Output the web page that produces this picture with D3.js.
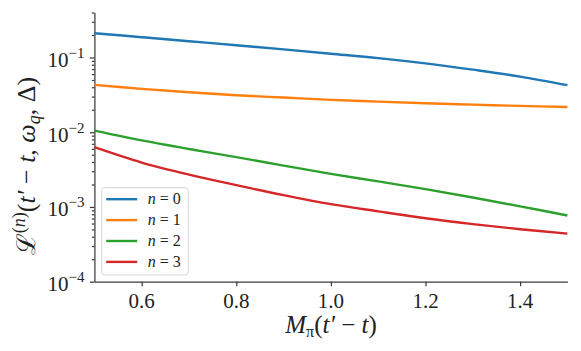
<!DOCTYPE html>
<html>
<head>
<meta charset="utf-8">
<script src="https://cdn.jsdelivr.net/npm/d3@7"></script>
<style>
  body { margin: 0; background: #fff; }
  svg { display: block; }
  svg text { font-family: "Liberation Serif", "Times New Roman", serif; fill: #222; }
  .axis path, .axis line { stroke: #3a3a3a; stroke-width: 1.25; }
</style>
</head>
<body>
<div id="chart"></div>
<script>
// values
var xValues = [0.5, 0.6, 0.7, 0.8, 0.9, 1.0, 1.1, 1.2, 1.3, 1.4, 1.5];
var n0 = [0.2115, 0.1869, 0.1653, 0.1461, 0.1284, 0.1124, 0.0982, 0.0834, 0.0687, 0.0555, 0.0426];
var n1 = [0.0430, 0.0380, 0.0343, 0.0313, 0.0291, 0.0271, 0.0257, 0.0244, 0.0234, 0.0225, 0.0218];
var n2 = [0.01050, 0.00777, 0.00597, 0.00464, 0.00358, 0.00277, 0.00220, 0.00173, 0.00134, 0.00102, 0.000770];
var n3 = [0.00630, 0.00393, 0.00271, 0.00196, 0.00144, 0.00109, 0.000873, 0.000706, 0.000590, 0.000504, 0.000440];
var seriesNames = ["n = 0", "n = 1", "n = 2", "n = 3"];
var colors = ["#1f77b4", "#ff7f0e", "#2ca02c", "#d62728"];
var xTicks = [0.6, 0.8, 1.0, 1.2, 1.4];
var yTickExp = [-4, -3, -2, -1];

var width = 581, height = 351;
var margin = {left: 94.4, right: 13.6, top: 12.5, bottom: 69.3};

var svg = d3.select("#chart").append("svg")
    .attr("width", width)
    .attr("height", height);

var x = d3.scaleLinear()
    .domain([0.5, 1.5])
    .range([margin.left, width - margin.right]);

var y = d3.scaleLog()
    .domain([1e-4, 0.4])
    .range([height - margin.bottom, margin.top]);

// minor log ticks
var minor = [];
yTickExp.forEach(function(e) {
  for (var k = 2; k <= 9; k++) {
    var v = k * Math.pow(10, e);
    if (v <= 0.4) minor.push(v);
  }
});

svg.append("g")
    .attr("class", "axis")
    .attr("transform", "translate(" + margin.left + ",0)")
    .call(d3.axisLeft(y).tickValues(minor).tickSize(2.5).tickFormat(""))
    .select(".domain").remove();

svg.append("g")
    .attr("class", "axis")
    .attr("transform", "translate(" + margin.left + ",0)")
    .call(d3.axisLeft(y).tickValues(yTickExp.map(function(e) { return Math.pow(10, e); }))
      .tickSize(4.5).tickSizeOuter(0).tickFormat(""));

svg.append("g")
    .attr("class", "axis")
    .attr("transform", "translate(0," + (height - margin.bottom) + ")")
    .call(d3.axisBottom(x).tickValues(xTicks).tickSize(4.5).tickSizeOuter(0).tickFormat(""));

// tick labels
svg.append("g").selectAll("text")
    .data(xTicks)
    .enter().append("text")
    .attr("x", function(d) { return x(d); })
    .attr("y", height - margin.bottom + 26.5)
    .attr("text-anchor", "middle")
    .style("font-size", "21px")
    .text(function(d) { return d3.format(".1f")(d); });

var yl = svg.append("g").selectAll("text")
    .data(yTickExp)
    .enter().append("text")
    .attr("x", margin.left - 10)
    .attr("y", function(d) { return y(Math.pow(10, d)) + 9.5; })
    .attr("text-anchor", "end")
    .style("font-size", "21px");
yl.append("tspan").text("10");
yl.append("tspan")
    .attr("dy", -9)
    .style("font-size", "15px")
    .text(function(d) { return "\u2212" + Math.abs(d); });

// lines
var allSeries = [n0, n1, n2, n3];
var line = d3.line()
    .x(function(d, i) { return x(xValues[i]); })
    .y(function(d) { return y(d); })
    .curve(d3.curveCatmullRom.alpha(0.5));

svg.append("g").selectAll("path")
    .data(allSeries)
    .enter().append("path")
    .attr("d", function(d) { return line(d); })
    .attr("fill", "none")
    .attr("stroke", function(d, i) { return colors[i]; })
    .attr("stroke-width", 2.4);

// legend
var lg = svg.append("g").attr("transform", "translate(101.7,187.7)");
lg.append("rect")
    .attr("width", 86.6)
    .attr("height", 87.3)
    .attr("rx", 3)
    .attr("fill", "#fff")
    .attr("fill-opacity", 0.8)
    .attr("stroke", "#d6d6d6")
    .attr("stroke-width", 1);

var row = lg.selectAll(".row")
    .data(seriesNames)
    .enter().append("g")
    .attr("class", "row")
    .attr("transform", function(d, i) { return "translate(0," + (11.5 + i * 20.9) + ")"; });
row.append("line")
    .attr("x1", 4.5).attr("x2", 35.5)
    .attr("stroke", function(d, i) { return colors[i]; })
    .attr("stroke-width", 2.4);
var rt = row.append("text")
    .attr("x", 46)
    .attr("y", 5)
    .style("font-size", "16px");
rt.append("tspan").style("font-style", "italic").text("n");
rt.append("tspan").text(function(d) { return " = " + d.slice(4); });

// axis titles
var xt = svg.append("text")
    .attr("x", 331)
    .attr("y", 333)
    .attr("text-anchor", "middle")
    .style("font-size", "25px");
xt.append("tspan").style("font-style", "italic").text("M");
xt.append("tspan").attr("dy", 4).style("font-size", "16px").text("\u03c0");
xt.append("tspan").attr("dy", -4).text("(");
xt.append("tspan").style("font-style", "italic").text("t\u2032");
xt.append("tspan").text(" \u2212 ");
xt.append("tspan").style("font-style", "italic").text("t");
xt.append("tspan").text(")");

var yt = svg.append("text")
    .attr("transform", "translate(35,166) rotate(-90)")
    .attr("text-anchor", "middle")
    .style("font-size", "26px");
yt.append("tspan").text("\u2112");
yt.append("tspan").attr("dy", -10).style("font-size", "18px").text("(");
yt.append("tspan").style("font-size", "18px").style("font-style", "italic").text("n");
yt.append("tspan").style("font-size", "18px").text(")");
yt.append("tspan").attr("dy", 10).text("(");
yt.append("tspan").style("font-style", "italic").text("t\u2032");
yt.append("tspan").text(" \u2212 ");
yt.append("tspan").style("font-style", "italic").text("t");
yt.append("tspan").text(", ");
yt.append("tspan").style("font-style", "italic").text("\u03c9");
yt.append("tspan").attr("dy", 5).style("font-size", "18px").style("font-style", "italic").text("q");
yt.append("tspan").attr("dy", -5).text(", \u0394)");
</script>
</body>
</html>
